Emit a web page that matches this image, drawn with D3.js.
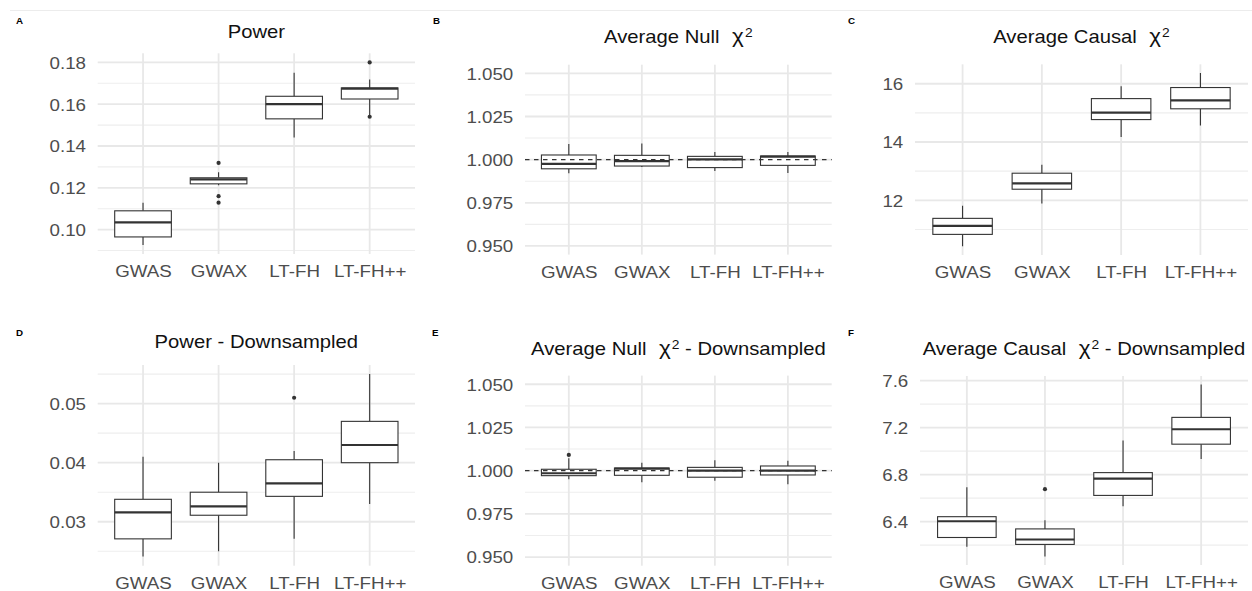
<!DOCTYPE html>
<html>
<head>
<meta charset="utf-8">
<script src="https://cdn.jsdelivr.net/npm/d3@7"></script>
<style>
body { margin: 0; background: #fff; }
text { font-family: "Liberation Sans", Arial, sans-serif; }
</style>
</head>
<body>
<div id="container"></div>
<script>
let groups = ["GWAS", "GWAX", "LT-FH", "LT-FH++"];

// per group: [lower whisker, Q1, median, Q3, upper whisker]
let power = [[0.0927, 0.0965, 0.1035, 0.1090, 0.1129],
             [0.1212, 0.1219, 0.1240, 0.1248, 0.1275],
             [0.1441, 0.1530, 0.1600, 0.1638, 0.1750],
             [0.1549, 0.1625, 0.1675, 0.1678, 0.1718]];
let powerOutliers = [[], [0.1319, 0.1160, 0.1129], [], [0.1800, 0.1540]];
let powerTicks = [0.10, 0.12, 0.14, 0.16, 0.18];

let nullChi = [[0.9921, 0.9947, 0.9975, 1.0027, 1.0091],
               [0.9958, 0.9963, 0.9992, 1.0025, 1.0093],
               [0.9934, 0.9954, 1.0002, 1.0019, 1.0044],
               [0.9923, 0.9967, 1.0017, 1.0021, 1.0044]];
let nullOutliers = [[], [], [], []];
let nullTicks = [0.950, 0.975, 1.000, 1.025, 1.050];
let nullLimits = [0.95, 1.05];

let causalChi = [[10.42, 10.83, 11.12, 11.38, 11.81],
                 [11.89, 12.38, 12.58, 12.93, 13.22],
                 [14.17, 14.77, 15.01, 15.49, 15.91],
                 [14.57, 15.14, 15.43, 15.87, 16.37]];
let causalOutliers = [[], [], [], []];
let causalTicks = [12, 14, 16];

let powerDown = [[0.0241, 0.0271, 0.0316, 0.0338, 0.0410],
                 [0.0250, 0.0311, 0.0326, 0.0350, 0.0400],
                 [0.0271, 0.0343, 0.0365, 0.0405, 0.0420],
                 [0.0330, 0.0400, 0.0430, 0.0470, 0.0550]];
let powerDownOutliers = [[], [], [0.0510], []];
let powerDownTicks = [0.03, 0.04, 0.05];

let nullDown = [[0.9950, 0.9971, 0.9985, 1.0008, 1.0072],
                [0.9933, 0.9973, 1.0012, 1.0015, 1.0046],
                [0.9942, 0.9962, 1.0000, 1.0019, 1.0060],
                [0.9921, 0.9975, 1.0000, 1.0027, 1.0058]];
let nullDownOutliers = [[1.0091], [], [], []];

let causalDown = [[6.186, 6.265, 6.403, 6.442, 6.693],
                  [6.104, 6.206, 6.248, 6.338, 6.411],
                  [6.530, 6.623, 6.766, 6.817, 7.090],
                  [6.932, 7.059, 7.186, 7.287, 7.566]];
let causalDownOutliers = [[], [6.676], [], []];
let causalDownTicks = [6.4, 6.8, 7.2, 7.6];

let svg = d3.select('#container')
    .append("svg")
    .attr("width", 1252)
    .attr("height", 591);

let sx = 1.15; // glyphs in the figure are a bit wide
let ink = "#333333";

svg.append("line")
    .attr("x1", 10).attr("x2", 1252)
    .attr("y1", 10.5).attr("y2", 10.5)
    .attr("stroke", "#ececec");

let panels = [
    {letter: "A", title: "Power", chi: false, suffix: "", stats: power, outliers: powerOutliers,
     ticks: powerTicks, fmt: ".2f", box: [97.7, 53.3, 415, 254], titleY: 37.7, letterPos: [16, 24.3]},
    {letter: "B", title: "Average Null", chi: true, suffix: "", stats: nullChi, outliers: nullOutliers,
     ticks: nullTicks, fmt: ".3f", limits: nullLimits, refLine: 1,
     box: [525, 64.7, 831.7, 254.6], titleY: 43.3, letterPos: [433, 24.3]},
    {letter: "C", title: "Average Causal", chi: true, suffix: "", stats: causalChi, outliers: causalOutliers,
     ticks: causalTicks, fmt: "d", box: [915, 64.3, 1248, 255], titleY: 43.3, letterPos: [848, 24.3]},
    {letter: "D", title: "Power - Downsampled", chi: false, suffix: "", stats: powerDown, outliers: powerDownOutliers,
     ticks: powerDownTicks, fmt: ".2f", box: [97.7, 365, 415, 565.7], titleY: 348.3, letterPos: [16, 335.7]},
    {letter: "E", title: "Average Null", chi: true, suffix: " - Downsampled", stats: nullDown, outliers: nullDownOutliers,
     ticks: nullTicks, fmt: ".3f", limits: nullLimits, refLine: 1,
     box: [525, 375.6, 831.7, 565.7], titleY: 355, letterPos: [432, 335.7]},
    {letter: "F", title: "Average Causal", chi: true, suffix: " - Downsampled", stats: causalDown, outliers: causalDownOutliers,
     ticks: causalDownTicks, fmt: ".1f", box: [920, 376, 1248, 565], titleY: 355, letterPos: [848, 335.7]}
];

panels.forEach(drawPanel);

function drawPanel(p) {
    let [x0, y0, x1, y1] = p.box;
    let x = d3.scalePoint().domain(groups).range([x0, x1]).padding(0.6);
    let all = d3.merge(p.stats.concat(p.outliers));
    let lo = p.limits ? p.limits[0] : d3.min(all);
    let hi = p.limits ? p.limits[1] : d3.max(all);
    let pad = (hi - lo) * 0.05;
    let y = d3.scaleLinear().domain([lo - pad, hi + pad]).range([y1, y0]);
    let dom = y.domain();
    let step = p.ticks[1] - p.ticks[0];
    let minor = d3.range(p.ticks.length + 1)
        .map(i => p.ticks[0] + (i - 0.5) * step)
        .filter(v => v >= dom[0] && v <= dom[1]);
    let bw = x.step() * 0.75;

    let g = svg.append("g");

    // grid
    g.append("g").selectAll("line")
        .data(minor).enter().append("line")
        .attr("x1", x0).attr("x2", x1)
        .attr("y1", d => y(d)).attr("y2", d => y(d))
        .attr("stroke", "#eeeeee").attr("stroke-width", 1.1);
    g.append("g").selectAll("line")
        .data(p.ticks).enter().append("line")
        .attr("x1", x0).attr("x2", x1)
        .attr("y1", d => y(d)).attr("y2", d => y(d))
        .attr("stroke", "#e8e8e8").attr("stroke-width", 1.8);
    g.append("g").selectAll("line")
        .data(groups).enter().append("line")
        .attr("x1", d => x(d)).attr("x2", d => x(d))
        .attr("y1", y0).attr("y2", y1)
        .attr("stroke", "#e8e8e8").attr("stroke-width", 1.8);

    // boxes
    let b = g.append("g").selectAll("g")
        .data(p.stats).enter().append("g")
        .attr("transform", (_, i) => "translate(" + x(groups[i]) + ",0)");
    b.append("line")
        .attr("y1", d => y(d[0])).attr("y2", d => y(d[1]))
        .attr("stroke", ink).attr("stroke-width", 1.1);
    b.append("line")
        .attr("y1", d => y(d[3])).attr("y2", d => y(d[4]))
        .attr("stroke", ink).attr("stroke-width", 1.1);
    b.append("rect")
        .attr("x", -bw / 2).attr("width", bw)
        .attr("y", d => y(d[3]))
        .attr("height", d => y(d[1]) - y(d[3]))
        .attr("fill", "#fff").attr("stroke", ink).attr("stroke-width", 1.1);
    b.append("line")
        .attr("x1", -bw / 2).attr("x2", bw / 2)
        .attr("y1", d => y(d[2])).attr("y2", d => y(d[2]))
        .attr("stroke", ink).attr("stroke-width", 2.2);

    // outliers
    g.append("g").selectAll("circle")
        .data(d3.merge(p.outliers.map((o, i) => o.map(v => [groups[i], v]))))
        .enter().append("circle")
        .attr("cx", d => x(d[0])).attr("cy", d => y(d[1]))
        .attr("r", 2.1).attr("fill", ink);

    if (p.refLine !== undefined) {
        g.append("line")
            .attr("x1", x0).attr("x2", x1)
            .attr("y1", y(p.refLine)).attr("y2", y(p.refLine))
            .attr("stroke", ink).attr("stroke-width", 1.1)
            .attr("stroke-dasharray", "4.5,4.5");
    }

    // axes
    g.append("g")
        .attr("transform", "translate(" + x0 + ",0)")
        .call(d3.axisLeft(y).tickValues(p.ticks).tickFormat(d3.format(p.fmt)).tickSize(0).tickPadding(10.2))
        .call(a => a.select(".domain").remove())
        .selectAll("text")
        .attr("transform", "scale(" + sx + ",1)")
        .attr("dy", "0.36em")
        .attr("fill", "#4d4d4d")
        .style("font-size", "16.3px");
    g.append("g")
        .attr("transform", "translate(0," + y1 + ")")
        .call(d3.axisBottom(x).tickSize(0).tickPadding(11.4))
        .call(a => a.select(".domain").remove())
        .selectAll("text")
        .attr("transform", "scale(" + sx + ",1)")
        .attr("fill", "#4d4d4d")
        .style("font-size", "16.3px");

    // title
    let t = g.append("text")
        .attr("transform", "translate(" + (x0 + x1) / 2 + "," + p.titleY + ") scale(" + sx + ",1)")
        .attr("text-anchor", "middle")
        .attr("fill", "#111")
        .style("font-size", "17.6px")
        .style("white-space", "pre");
    t.append("tspan").text(p.title);
    if (p.chi) {
        t.append("tspan").text("  \u03c7").style("font-size", "19.5px");
        t.append("tspan").text("2").attr("dx", 1).attr("dy", -6).style("font-size", "12px");
        t.append("tspan").text(p.suffix).attr("dy", 6);
    }

    // panel tag
    svg.append("text")
        .attr("transform", "translate(" + p.letterPos[0] + "," + p.letterPos[1] + ") scale(" + sx + ",1)")
        .attr("font-weight", "bold")
        .style("font-size", "8.5px")
        .attr("fill", "#000")
        .text(p.letter);
}
</script>
</body>
</html>
